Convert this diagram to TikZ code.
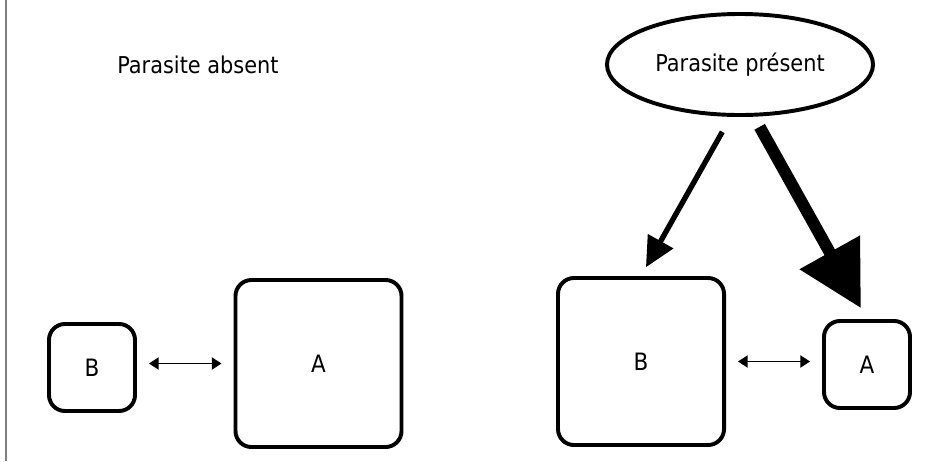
\documentclass[tikz,border=0pt]{standalone}
\usepackage{fontspec}
\setmainfont{DejaVu Sans Condensed}
\usetikzlibrary{arrows.meta,shapes.geometric}

\tikzset{
  box/.style={draw, line width=2.8pt, rounded corners=0.4cm, font=\fontsize{17}{20}\selectfont},
  smallbox/.style={box, minimum width=2.15cm, minimum height=2.175cm},
  bigbox/.style={box, minimum width=4.15cm, minimum height=4.175cm},
  title/.style={font=\fontsize{16.5}{20}\selectfont},
  link/.style={{Triangle[length=0.24cm,width=0.3cm]}-{Triangle[length=0.24cm,width=0.3cm]}, line width=1.4pt, shorten <=0.3cm, shorten >=0.3cm},
  weak/.style={-{Triangle[length=0.75cm,width=0.7cm]}, line width=3.8pt},
  strong/.style={-{Triangle[length=1.6cm,width=1.65cm]}, line width=8.5pt},
}

\begin{document}
\begin{tikzpicture}[x=0.025cm, y=-0.025cm]
  \useasboundingbox (0,0) rectangle (946,461);
  % scan edge on the left
  \draw[gray, line width=1pt] (6,0) -- (6,461);

  % Parasite absent
  \node[title] (absent) at (198,65) {Parasite absent};
  \node[smallbox] (lB) at (92,367.5) {B};
  \node[bigbox] (lA) at (318.5,363.5) {A};
  \draw[link] (lA.west -| lB.east) -- (lA.west);

  % Parasite present
  \node[title, ellipse, draw, line width=2.8pt, minimum width=6.65cm, minimum height=2.525cm] (present) at (740,64.5) {Parasite présent};
  \node[bigbox] (rB) at (641,361.5) {B};
  \node[smallbox] (rA) at (867,364.5) {A};
  \draw[link] (rB.east) -- (rB.east -| rA.west);

  % effect of the parasite
  \draw[weak, shorten <=0.43cm, shorten >=0.25cm] (present.-100) -- (rB.north);
  \draw[strong, shorten <=0.29cm, shorten >=0.31cm] (present.-75) -- (rA.north);
\end{tikzpicture}
\end{document}
